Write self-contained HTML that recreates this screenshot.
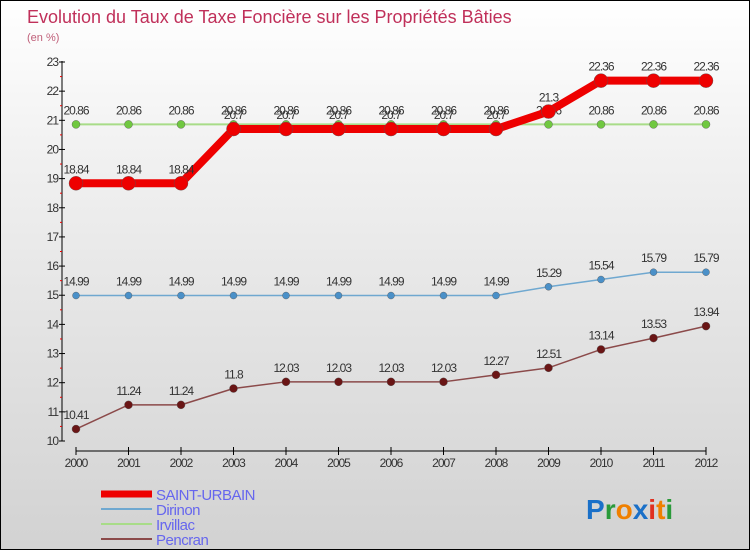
<!DOCTYPE html>
<html><head><meta charset="utf-8"><style>
body{margin:0}
#c{width:750px;height:550px;position:relative;box-sizing:border-box;border:1px solid #000;background:linear-gradient(#fff,#f0f0f0 30%,#d2d2d2);font-family:"Liberation Sans",sans-serif;overflow:hidden}
svg text{font-family:"Liberation Sans",sans-serif}
</style></head><body>
<div id="c">
<svg id="s" width="750" height="550">
<text x="26" y="22" font-size="18" fill="#c0305a">Evolution du Taux de Taxe Foncière sur les Propriétés Bâties</text>
<text x="26" y="40" font-size="11" fill="#c0607a">(en %)</text>
<g id="g"></g>
<text x="585" y="518" font-size="28" font-weight="bold"><tspan fill="#1a70c8">P</tspan><tspan fill="#2a9a3a">r</tspan><tspan fill="#f08000">o</tspan><tspan fill="#1a70c8">x</tspan><tspan fill="#e03020">i</tspan><tspan fill="#f08000">t</tspan><tspan fill="#2a9a3a">i</tspan></text>
</svg>
</div>
<script>
const years=["2000","2001","2002","2003","2004","2005","2006","2007","2008","2009","2010","2011","2012"];
const yTicks=[10,11,12,13,14,15,16,17,18,19,20,21,22,23];
const saintUrbain=[18.84,18.84,18.84,20.7,20.7,20.7,20.7,20.7,20.7,21.3,22.36,22.36,22.36];
const dirinon=[14.99,14.99,14.99,14.99,14.99,14.99,14.99,14.99,14.99,15.29,15.54,15.79,15.79];
const irvillac=[20.86,20.86,20.86,20.86,20.86,20.86,20.86,20.86,20.86,20.86,20.86,20.86,20.86];
const pencran=[10.41,11.24,11.24,11.8,12.03,12.03,12.03,12.03,12.27,12.51,13.14,13.53,13.94];
const NS="http://www.w3.org/2000/svg",g=document.getElementById('g');
const X=i=>75+i*52.5, Y=v=>440-(v-10)*(379/13);
function mk(t,a){const e=document.createElementNS(NS,t);for(const k in a)e.setAttribute(k,a[k]);g.appendChild(e);return e;}
let e=mk('line',{x1:61,y1:60,x2:61,y2:440,stroke:'#000'});


e=mk('line',{x1:75,y1:450,x2:705,y2:450,stroke:'#000'});


yTicks.forEach(v=>{
 mk('line',{x1:58,x2:64,y1:Y(v),y2:Y(v),stroke:'#000'});
 if(v<23)mk('line',{x1:59,x2:61,y1:Y(v+0.5),y2:Y(v+0.5),stroke:'#e00'});
 const t=mk('text',{x:57,y:Y(v)+4,'font-size':12,'text-anchor':'end',fill:'#333','letter-spacing':'-1'});t.textContent=v;
 
 
});
years.forEach((y,i)=>{
 mk('line',{x1:X(i),x2:X(i),y1:446,y2:454,stroke:'#000'});
 const t=mk('text',{x:X(i),y:466,'font-size':12,'text-anchor':'middle',fill:'#333','letter-spacing':'-1'});t.textContent=y;
 
 
});
function series(d,name,col,w,r,dot){
 const p=mk('polyline',{points:d.map((v,i)=>X(i)+','+Y(v)).join(' '),fill:'none',stroke:col,'stroke-width':w,'stroke-linejoin':'round'});
 
 
 d.forEach((v,i)=>{
  const c=mk('circle',{cx:X(i),cy:Y(v),r:r,fill:dot,stroke:'#555','stroke-width':0.4});
  
  
  const t=mk('text',{x:X(i),y:Y(v)-10,'font-size':12,'text-anchor':'middle',fill:'#333','letter-spacing':'-1'});t.textContent=v;
  
  
 });
}
series(pencran,'pencran','#8b4a4a',1.5,4,'#6a1515');
series(dirinon,'dirinon','#6fa8d0',1.5,3.5,'#4a90c8');
series(irvillac,'irvillac','#a8dc88',2,4,'#70c840');
series(saintUrbain,'saint-urbain','#ee0000',8,7,'#ee0000');
const leg=[['SAINT-URBAIN','#ee0000',7],['Dirinon','#6fa8d0',2],['Irvillac','#a8dc88',2],['Pencran','#8b4a4a',2]];
leg.forEach((l,i)=>{
 const y=493+i*15;
 const ln=mk('line',{x1:100,x2:151,y1:y,y2:y,stroke:l[1],'stroke-width':l[2]});
 
 
 const t=mk('text',{x:155,y:y+6,'font-size':15,fill:'#6666ee','letter-spacing':'-0.5'});t.textContent=l[0];
 
 
});
</script>
</body></html>
